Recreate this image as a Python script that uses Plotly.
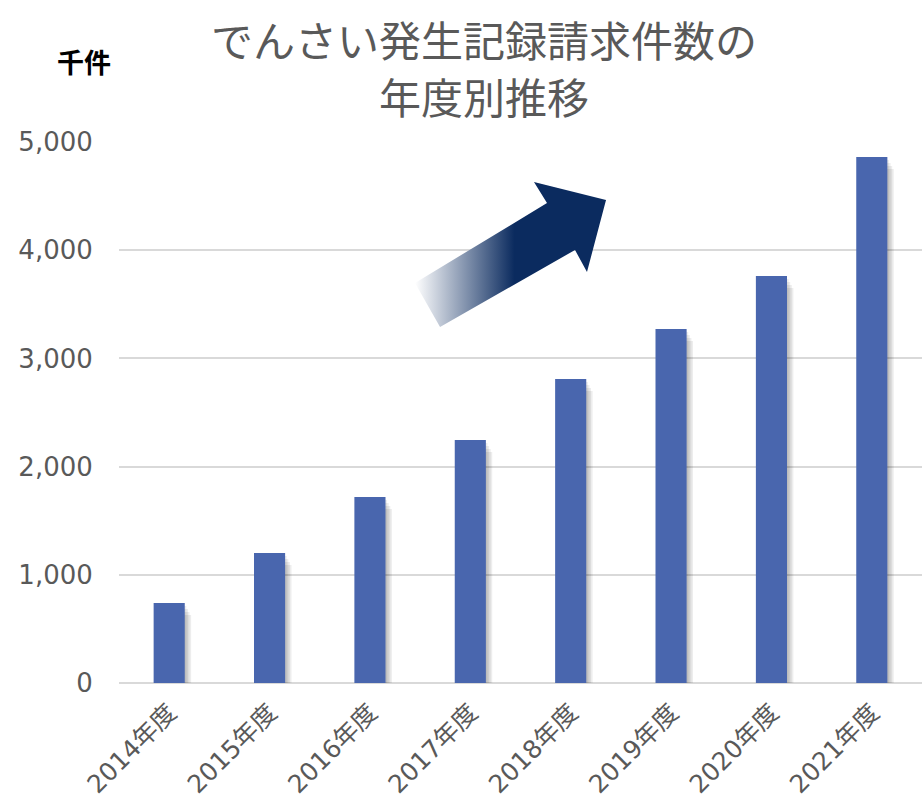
import plotly.graph_objects as go

categories = ["2014年度", "2015年度", "2016年度", "2017年度", "2018年度", "2019年度", "2020年度", "2021年度"]
values = [739, 1201, 1719, 2246, 2810, 3272, 3762, 4861]
y_ticks = [0, 1000, 2000, 3000, 4000, 5000]
y_tick_labels = ["0", "1,000", "2,000", "3,000", "4,000", "5,000"]
title_lines = ["でんさい発生記録請求件数の", "年度別推移"]
unit_label = "千件"

# decorative arrow outline, in fractions of the plot area
arrow_x = [0.3686, 0.5330, 0.5168, 0.6065, 0.5828, 0.5679, 0.3998, 0.3686]
arrow_y = [0.7394, 0.8872, 0.9261, 0.8928, 0.7597, 0.8004, 0.6580, 0.7394]

W, H = 922, 798
L, R, T, B = 119, 0, 142, 115
plot_w = W - L - R
plot_h = H - T - B
px_x = 1.0 / (plot_w / len(categories))   # category units per pixel
px_y = 5000.0 / plot_h                      # data units per pixel

BAR_W = 0.31
fig = go.Figure()

# soft shadow layers
for k in range(1, 5):
    fig.add_trace(go.Bar(
        x=categories, y=[v - 1.5 * k * px_y for v in values],
        base=[-1.5 * k * px_y] * len(values),
        width=BAR_W, offset=-BAR_W / 2 + 1.6 * k * px_x,
        marker=dict(color="rgba(0,0,0,0.07)", line=dict(width=0)),
        hoverinfo="skip", showlegend=False,
    ))

fig.add_trace(go.Bar(
    x=categories, y=values, width=BAR_W, offset=-BAR_W / 2,
    marker=dict(color="#4966AE", line=dict(width=0)),
    showlegend=False,
))

fig.add_trace(go.Scatter(
    x=arrow_x, y=arrow_y, xaxis="x2", yaxis="y2",
    mode="lines", fill="toself", line=dict(width=0),
    fillgradient=dict(type="horizontal",
                      colorscale=[[0, "rgba(255,255,255,1)"], [0.52, "#0B2B5F"], [1, "#0B2B5F"]]),
    hoverinfo="skip", showlegend=False,
))

title_font = dict(size=42, family="Noto Sans CJK JP", color="#595959")
fig.update_layout(
    width=W, height=H, autosize=False,
    margin=dict(l=L, r=R, t=T, b=B, pad=0),
    paper_bgcolor="white", plot_bgcolor="white",
    barmode="overlay",
    font=dict(family="DejaVu Sans, Noto Sans CJK JP", color="#595959"),
    xaxis=dict(
        type="category", categoryorder="array", categoryarray=categories,
        tickangle=-45, tickfont=dict(size=25, family="DejaVu Sans, Noto Sans CJK JP", color="#595959"),
        showgrid=False, showline=False, zeroline=False, automargin=False,
        ticks="outside", ticklen=4, tickcolor="rgba(0,0,0,0)",
        range=[-0.5, len(categories) - 0.5],
    ),
    yaxis=dict(
        range=[0, 5000], tickvals=y_ticks, ticktext=y_tick_labels,
        tickfont=dict(size=26, family="DejaVu Sans", color="#595959"),
        showgrid=True, gridcolor="#D9D9D9", gridwidth=2, automargin=False,
        zeroline=True, zerolinecolor="#D9D9D9", zerolinewidth=2,
        showline=False, ticks="outside", ticklen=20, tickcolor="rgba(0,0,0,0)",
    ),
    xaxis2=dict(overlaying="x", range=[0, 1], visible=False, fixedrange=True),
    yaxis2=dict(overlaying="y", range=[0, 1], visible=False, fixedrange=True),
    annotations=[
        dict(text=title_lines[0], xref="paper", yref="paper",
             x=(484 - L) / plot_w, y=(H - B - 38) / plot_h, xanchor="center", yanchor="middle",
             showarrow=False, font=title_font),
        dict(text=title_lines[1], xref="paper", yref="paper",
             x=(484 - L) / plot_w, y=(H - B - 95) / plot_h, xanchor="center", yanchor="middle",
             showarrow=False, font=title_font),
        dict(text="<b>" + unit_label + "</b>", xref="paper", yref="paper",
             x=(84 - L) / plot_w, y=(H - B - 62) / plot_h, xanchor="center", yanchor="middle",
             showarrow=False,
             font=dict(size=27, family="Noto Sans CJK JP", color="#000000")),
    ],
)

fig.write_html("out.html", config={"displayModeBar": False},
               post_script="document.body.style.margin='0';document.body.style.overflow='hidden';")
